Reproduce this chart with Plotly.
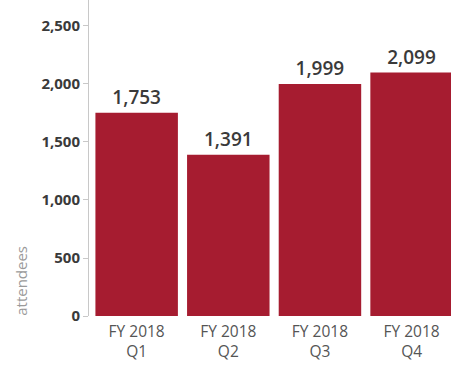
import plotly.graph_objects as go

# Quarterly attendance
quarters = ["FY 2018<br>Q1", "FY 2018<br>Q2", "FY 2018<br>Q3", "FY 2018<br>Q4"]
attendees = [1753, 1391, 1999, 2099]
y_ticks = [0, 500, 1000, 1500, 2000, 2500]

bar_color = "#A61C30"

fig = go.Figure(
    go.Bar(
        x=quarters,
        y=attendees,
        marker=dict(color=bar_color, line=dict(width=0)),
        text=[f"{v:,}" for v in attendees],
        textposition="outside",
        textfont=dict(family="Open Sans", size=19, color="#3a3a3a", weight=600),
        cliponaxis=False,
    )
)

fig.update_layout(
    width=451,
    height=365,
    margin=dict(l=89, r=0, t=0, b=49),
    paper_bgcolor="white",
    plot_bgcolor="white",
    showlegend=False,
    bargap=0.1,
    xaxis=dict(
        range=[-0.52, 3.43],
        showline=False,
        showgrid=False,
        ticks="",
        ticklabelstandoff=4,
        tickfont=dict(family="Open Sans", size=15.5, color="#555555"),
    ),
    yaxis=dict(
        range=[0, 2724],
        tickvals=y_ticks,
        ticktext=[f"{v:,}" for v in y_ticks],
        showgrid=False,
        zeroline=False,
        showline=True,
        linecolor="#c8c8c8",
        linewidth=1,
        ticks="outside",
        ticklen=5,
        tickcolor="#c8c8c8",
        tickfont=dict(family="Open Sans", size=15, color="#3a3a3a", weight="bold"),
    ),
    annotations=[
        dict(
            text="attendees",
            textangle=-90,
            xref="paper",
            yref="paper",
            x=-0.19,
            y=-0.005,
            xanchor="center",
            yanchor="bottom",
            showarrow=False,
            font=dict(family="Open Sans", size=15, color="#9a9a9a"),
        )
    ],
)

fig.write_html("out.html")
